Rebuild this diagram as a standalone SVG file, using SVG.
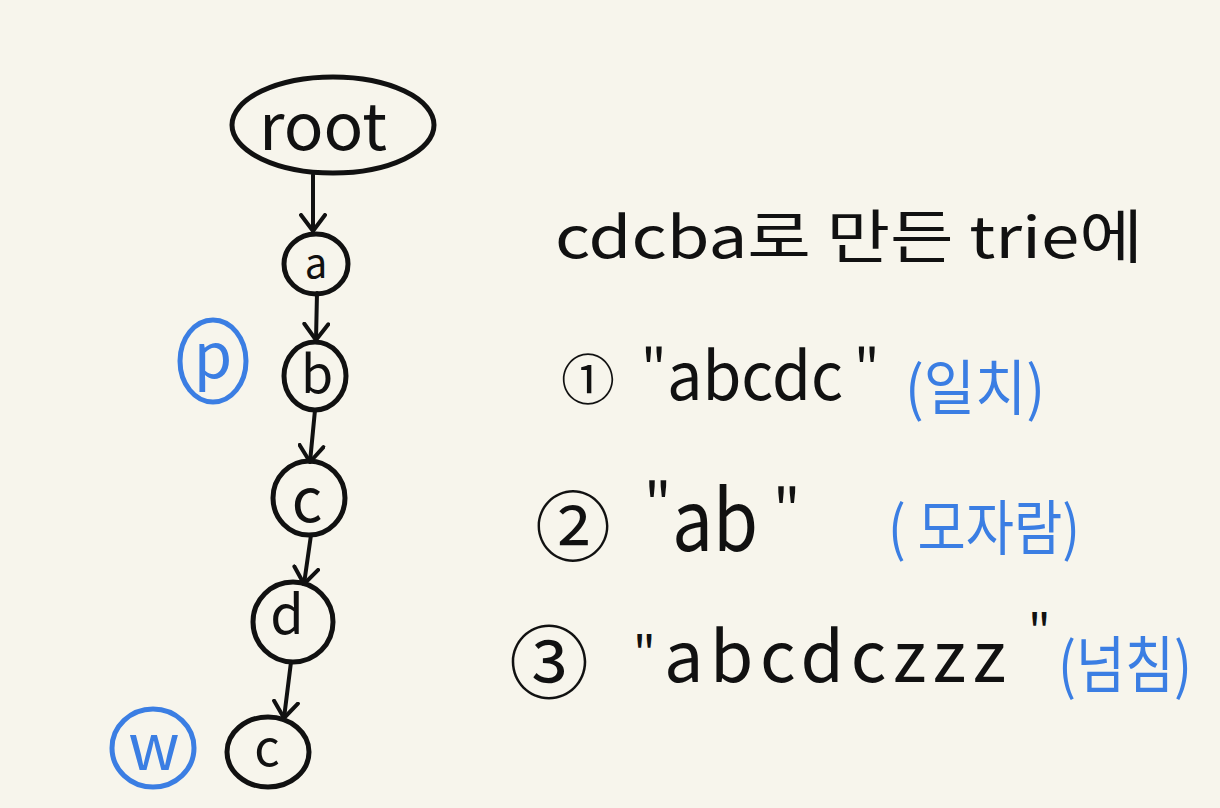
<svg xmlns="http://www.w3.org/2000/svg" width="1220" height="808" viewBox="0 0 1220 808">
<defs>
<marker id="arr" viewBox="-18 -14 20 28" refX="0" refY="0" markerWidth="20" markerHeight="28" markerUnits="userSpaceOnUse" orient="auto">
<path d="M-16,-12 L0,0 L-16,12" fill="none" stroke="#111" stroke-width="4" stroke-linecap="round" stroke-linejoin="round"/>
</marker>
<style>
.nd{fill:none;stroke:#111;stroke-width:5}
.bl{fill:none;stroke:#3b7ee3;stroke-width:5}
.lb{font-family:"Noto Sans CJK KR","Noto Sans",sans-serif;fill:#111;text-anchor:middle}
.tx{font-family:"Noto Sans CJK KR","Noto Sans",sans-serif;fill:#111}
.bt{font-family:"Noto Sans CJK KR","Noto Sans",sans-serif;fill:#3b7ee3}
.ed{fill:none;stroke:#111;stroke-width:4;stroke-linecap:round}
</style>
</defs>
<rect width="1220" height="808" fill="#f7f5ec"/>
<g id="connectors">
<path class="ed" d="M313,175 L313,231" marker-end="url(#arr)"/>
<path class="ed" d="M317,293 L316,340" marker-end="url(#arr)"/>
<path class="ed" d="M315,410 L310,462" marker-end="url(#arr)"/>
<path class="ed" d="M311,535 L304,584" marker-end="url(#arr)"/>
<path class="ed" d="M291,662 L284,718" marker-end="url(#arr)"/>
</g>
<g id="node-root">
<ellipse class="nd" cx="333" cy="125" rx="101" ry="48"/>
<text class="lb" x="323" y="150" font-size="64" textLength="128" lengthAdjust="spacingAndGlyphs">root</text>
</g>
<g id="node-a">
<ellipse class="nd" cx="316" cy="264" rx="32" ry="30"/>
<text class="lb" x="316" y="278" font-size="40">a</text>
</g>
<g id="node-b">
<ellipse class="nd" cx="315" cy="376" rx="31" ry="34"/>
<text class="lb" x="317" y="393" font-size="52">b</text>
</g>
<g id="node-c1">
<ellipse class="nd" cx="309" cy="498" rx="36" ry="37"/>
<text class="lb" x="307" y="522" font-size="60">c</text>
</g>
<g id="node-d">
<ellipse class="nd" cx="293" cy="622" rx="40" ry="40"/>
<text class="lb" x="287" y="634" font-size="54">d</text>
</g>
<g id="node-c2">
<ellipse class="nd" cx="268" cy="752" rx="41" ry="35"/>
<text class="lb" x="267" y="766" font-size="50">c</text>
</g>
<g id="marker-p">
<ellipse class="bl" cx="213" cy="361" rx="33" ry="41"/>
<text x="213" y="378" font-size="62" text-anchor="middle" class="bt">p</text>
</g>
<g id="marker-w">
<ellipse class="bl" cx="153" cy="748" rx="41" ry="39"/>
<text x="154" y="770" font-size="64" text-anchor="middle" class="bt">w</text>
</g>
<g id="notes">
<text class="tx" x="555" y="258" font-size="58" textLength="588" lengthAdjust="spacingAndGlyphs">cdcba로 만든 trie에</text>
<text class="tx" x="561" y="400" font-size="54">①</text>
<text class="tx" font-size="66"><tspan x="641" y="388" font-size="54">"</tspan><tspan x="667" y="400" textLength="176" lengthAdjust="spacingAndGlyphs">abcdc</tspan><tspan x="854" y="388" font-size="54">"</tspan></text>
<text class="bt" x="905" y="410" font-size="60" textLength="140" lengthAdjust="spacingAndGlyphs">(일치)</text>
<text class="tx" x="535" y="555" font-size="76">②</text>
<text class="tx" font-size="84"><tspan x="644" y="525" font-size="58">"</tspan><tspan x="672" y="551" textLength="86" lengthAdjust="spacingAndGlyphs">ab</tspan><tspan x="773" y="531" font-size="58">"</tspan></text>
<text class="bt" x="888" y="550" font-size="60" textLength="192" lengthAdjust="spacingAndGlyphs">( 모자람)</text>
<text class="tx" x="509" y="692" font-size="80">③</text>
<text class="tx" font-size="70"><tspan x="633" y="671" font-size="48">"</tspan><tspan x="664" y="682" textLength="342" lengthAdjust="spacing">abcdczzz</tspan><tspan x="1028" y="649" font-size="48">"</tspan></text>
<text class="bt" x="1058" y="688" font-size="62" textLength="134" lengthAdjust="spacingAndGlyphs">(넘침)</text>
</g>
</svg>
